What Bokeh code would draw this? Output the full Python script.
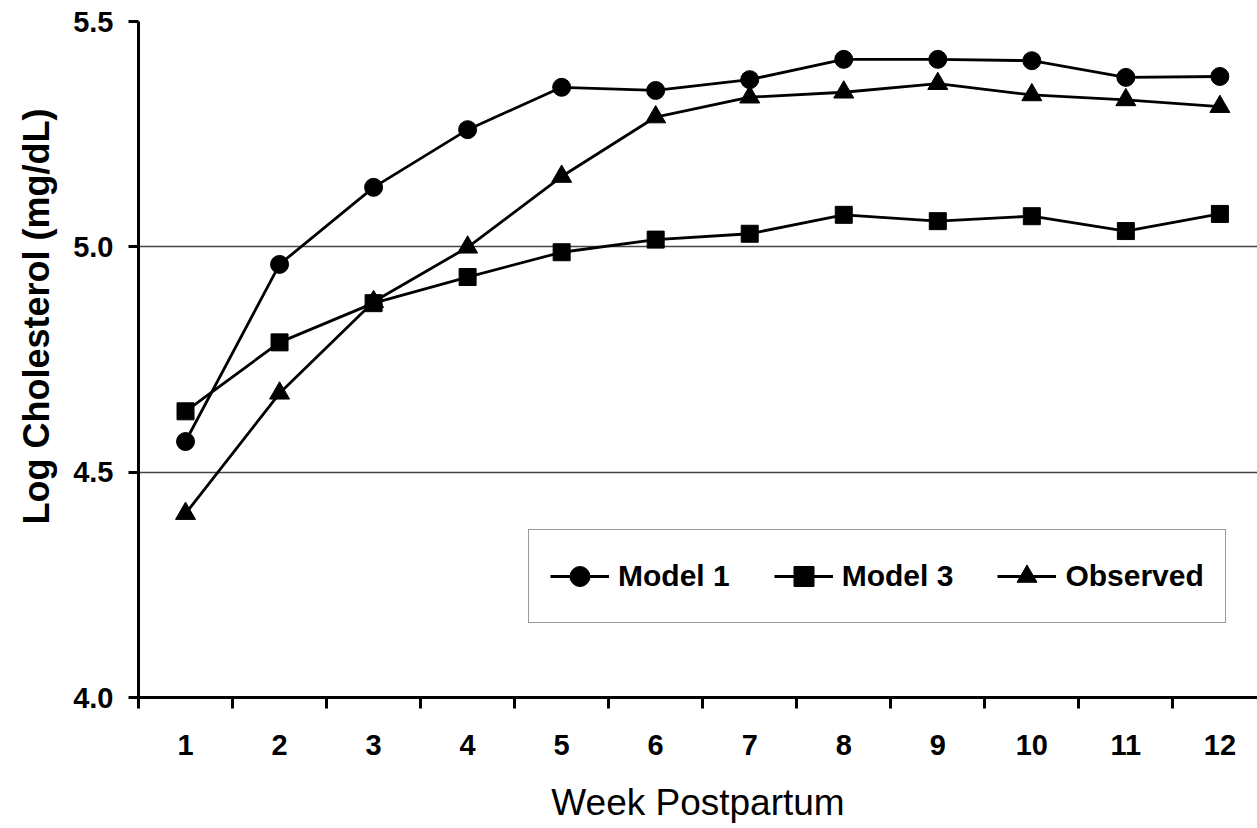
from bokeh.plotting import figure
from bokeh.models import FixedTicker, PrintfTickFormatter, Range1d, Legend, Title
from bokeh.embed import file_html
from bokeh.resources import INLINE

weeks = [1, 2, 3, 4, 5, 6, 7, 8, 9, 10, 11, 12]
model1 = [4.568, 4.961, 5.132, 5.260, 5.354, 5.347, 5.371, 5.416, 5.416, 5.413, 5.376, 5.378]
model3 = [4.635, 4.788, 4.875, 4.933, 4.988, 5.016, 5.029, 5.071, 5.057, 5.068, 5.035, 5.073]
observed = [4.408, 4.675, 4.878, 4.999, 5.156, 5.288, 5.332, 5.343, 5.362, 5.337, 5.326, 5.311]
y_ticks = [4.0, 4.5, 5.0, 5.5]
grid_values = [4.5, 5.0]
week_bounds = [w - 0.5 for w in weeks] + [12.5]

FONT = "Liberation Sans"

p = figure(width=1257, height=828, output_backend="svg", toolbar_location=None,
           x_range=Range1d(0.5, 12.40), y_range=Range1d(4.0, 5.5),
           min_border_left=137, min_border_top=21, min_border_right=0, min_border_bottom=131)
p.outline_line_color = None
p.background_fill_color = "white"
p.border_fill_color = "white"

lw = 2.8
r1l = p.line(weeks, model1, line_color="black", line_width=lw)
r1s = p.scatter(weeks, model1, marker="circle", size=18, fill_color="black", line_color="black")
r3l = p.line(weeks, model3, line_color="black", line_width=lw)
r3s = p.scatter(weeks, model3, marker="square", size=17, fill_color="black", line_color="black")
rol = p.line(weeks, observed, line_color="black", line_width=lw)
ros = p.scatter(weeks, observed, marker="triangle", size=20, fill_color="black", line_color="black")

# axes
p.xaxis.ticker = FixedTicker(ticks=weeks, minor_ticks=week_bounds)
p.yaxis.ticker = FixedTicker(ticks=y_ticks)
p.yaxis.formatter = PrintfTickFormatter(format="%.1f")

for ax in (p.xaxis[0], p.yaxis[0]):
    ax.axis_line_width = 3
    ax.axis_line_color = "black"
    ax.major_label_text_font = FONT
    ax.major_label_text_font_style = "bold"
    ax.major_label_text_font_size = "29px"
    ax.major_label_text_color = "black"
    ax.axis_label_text_font = FONT
    ax.axis_label_text_color = "black"

p.xaxis.major_tick_line_color = None
p.xaxis.major_tick_out = 10
p.xaxis.major_tick_in = 0
p.xaxis.minor_tick_line_color = "black"
p.xaxis.minor_tick_line_width = 3
p.xaxis.minor_tick_out = 11
p.xaxis.minor_tick_in = 0
p.xaxis.major_label_standoff = 26
p.xaxis.axis_label = "Week Postpartum"
p.xaxis.axis_label_text_font_style = "normal"
p.xaxis.axis_label_text_font_size = "37px"
p.xaxis.axis_label_standoff = 24

p.yaxis.major_tick_line_width = 3
p.yaxis.major_tick_line_color = "black"
p.yaxis.major_tick_out = 10
p.yaxis.major_tick_in = 0
p.yaxis.minor_tick_line_color = None
p.yaxis.major_label_standoff = 15

# y-axis title, sitting above the frame's middle as in the reference
ytitle = Title(text="Log Cholesterol (mg/dL)", align="right", offset=87,
               text_font=FONT, text_font_style="bold", text_font_size="36px",
               text_color="black", standoff=27)
p.add_layout(ytitle, "left")

p.xgrid.grid_line_color = None
p.ygrid.ticker = FixedTicker(ticks=grid_values)
p.ygrid.grid_line_color = "#444444"
p.ygrid.grid_line_width = 1.3

legend = Legend(items=[("Model 1", [r1l, r1s]), ("Model 3", [r3l, r3s]), ("Observed", [rol, ros])],
                location=(390, 74), orientation="horizontal")
legend.label_text_font = FONT
legend.label_text_font_style = "bold"
legend.label_text_font_size = "30px"
legend.label_text_color = "black"
legend.glyph_width = 59
legend.glyph_height = 50
legend.label_height = 50
legend.label_standoff = 9
legend.spacing = 44
legend.padding = 21
legend.margin = 0
legend.border_line_color = "#333333"
legend.border_line_width = 1.3
legend.background_fill_color = "white"
legend.background_fill_alpha = 1
p.add_layout(legend, "center")

open("out.html", "w").write(file_html(p, INLINE))
